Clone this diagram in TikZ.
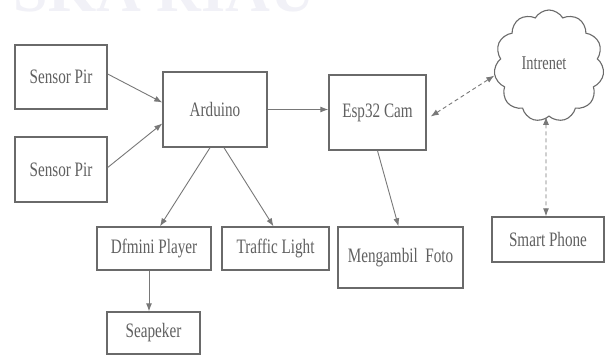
\documentclass[tikz,border=0pt]{standalone}
\usepackage{fontspec}
\setmainfont{Liberation Serif}
\newfontfamily\tnr[FakeStretch=0.74]{Liberation Serif}
\usetikzlibrary{arrows.meta,shapes.symbols}
\definecolor{boxc}{HTML}{6A6A6A}
\definecolor{txtc}{HTML}{606060}
\definecolor{arrc}{HTML}{787878}
\definecolor{wm}{HTML}{F1F1F7}
\tikzset{
  blk/.style={draw=boxc, line width=1.4pt, rectangle, inner sep=0pt, text=txtc,
    font=\tnr\fontsize{20.5}{22}\selectfont},
  conn/.style={draw=arrc, line width=0.9pt, -{Latex[length=8pt,width=6pt]}},
  dconn/.style={draw=arrc, line width=0.9pt, dash pattern=on 4pt off 3pt,
    {Latex[length=8pt,width=6pt]}-{Latex[length=8pt,width=6pt]}},
}
\begin{document}
\begin{tikzpicture}[x=1pt,y={(0pt,-1pt)}]
\useasboundingbox (0,0) rectangle (605,356);
\fill[white] (0,0) rectangle (605,356);
\node[anchor=base west, text=wm, font=\bfseries\fontsize{62}{62}\selectfont] (wmk) at (10,11) {SKA RIAU};
\node[blk, minimum width=92pt, minimum height=64pt] (s1) at (61,77) {Sensor Pir};
\node[blk, minimum width=92pt, minimum height=65pt] (s2) at (61,169.5) {Sensor Pir};
\node[blk, minimum width=104pt, minimum height=75pt] (ard) at (215,109.5) {Arduino};
\node[blk, minimum width=97pt, minimum height=75pt] (esp) at (377.5,112.5) {Esp32 Cam};
\node[cloud, cloud puffs=11, cloud puff arc=120, aspect=1, draw=boxc, line width=1.1pt,
  minimum width=110pt, minimum height=112pt] (cl) at (549,66) {};
\node[text=txtc, font=\tnr\fontsize{19.5}{21}\selectfont] (clt) at (544,63) {Intrenet};
\node[blk, minimum width=114pt, minimum height=43pt] (df) at (154,248.5) {Dfmini Player};
\node[blk, minimum width=107pt, minimum height=43pt] (tl) at (275.5,248.5) {Traffic Light};
\node[blk, minimum width=125pt, minimum height=61pt] (mf) at (400.5,257.5) {Mengambil\ \ Foto};
\node[blk, minimum width=112pt, minimum height=45pt] (sp) at (548,239.5) {Smart Phone};
\node[blk, minimum width=93pt, minimum height=42pt] (sk) at (153.5,333) {Seapeker};
\draw[conn] ([yshift=3pt]s1.east) -- ([yshift=7pt]ard.west);
\draw[conn] ([yshift=2pt]s2.east) -- ([yshift=-14pt]ard.west);
\draw[conn] (ard.east) -- (ard.east -| esp.west);
\draw[conn] ([xshift=-5pt]ard.south) -- ([xshift=6pt]df.north);
\draw[conn] ([xshift=9pt]ard.south) -- ([xshift=-2pt]tl.north);
\draw[conn] (esp.south) -- ([xshift=-2pt]mf.north);
\draw[conn] ([xshift=-5pt]df.south) -- ([xshift=-4.5pt]sk.north);
\draw[dconn] ([xshift=4pt,yshift=-4pt]esp.east) -- (cl.190);
\draw[dconn] ([xshift=-3pt]cl.south) -- ([xshift=-2pt]sp.north);
\end{tikzpicture}
\end{document}
